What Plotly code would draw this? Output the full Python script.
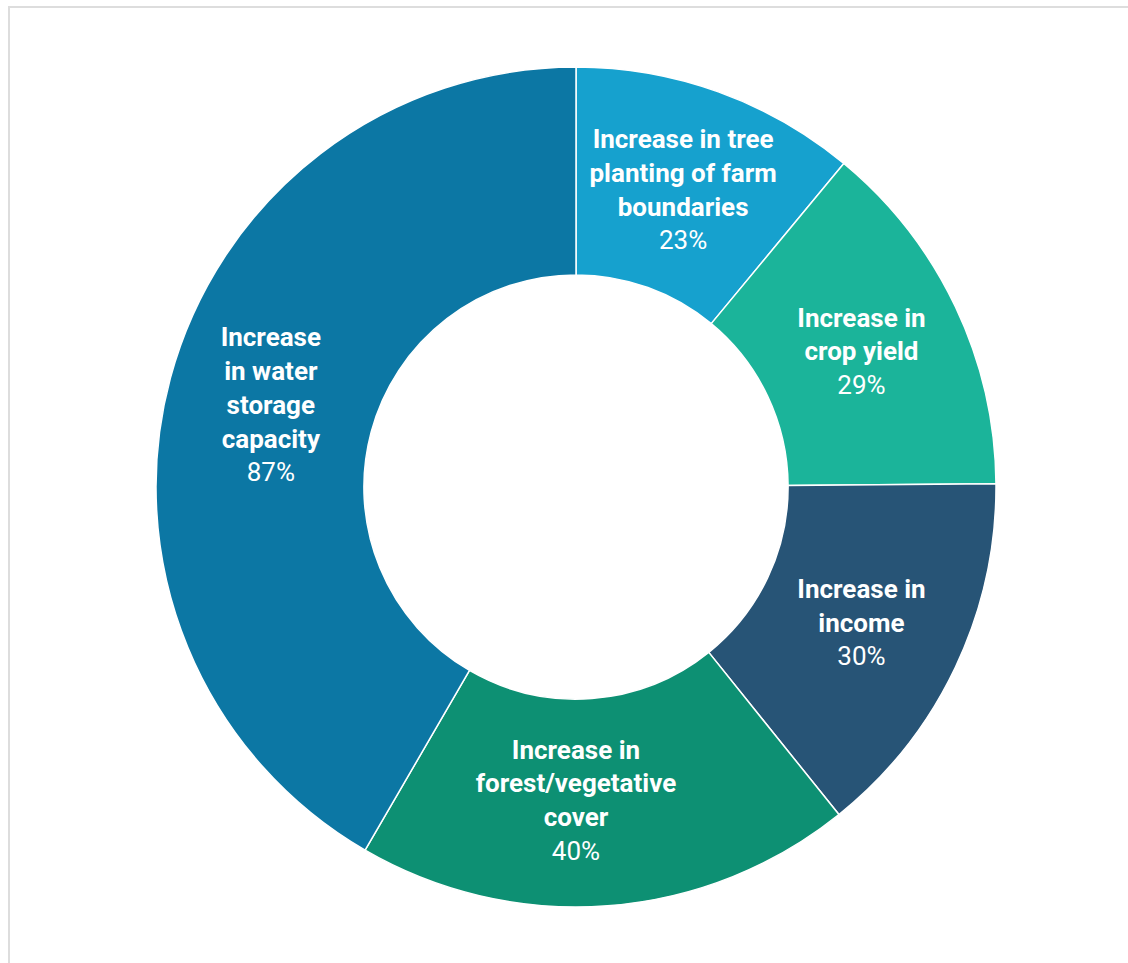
import plotly.graph_objects as go

labels = [
    "Increase in tree<br>planting of farm<br>boundaries",
    "Increase in<br>crop yield",
    "Increase in<br>income",
    "Increase in<br>forest/vegetative<br>cover",
    "Increase<br>in water<br>storage<br>capacity",
]
values = [23, 29, 30, 40, 87]
colors = ["#16A1CE", "#1BB49A", "#275476", "#0D9073", "#0C77A4"]

W, H = 1128, 963
cx, cy, R = 576, 487, 420

fig = go.Figure(
    go.Pie(
        labels=labels,
        values=values,
        sort=False,
        direction="clockwise",
        rotation=0,
        hole=0.505,
        marker=dict(colors=colors, line=dict(color="white", width=1.5)),
        texttemplate="<b>%{label}</b><br>%{value}%",
        textposition="inside",
        insidetextorientation="horizontal",
        textfont=dict(family="Roboto", size=26, color="white"),
        showlegend=False,
        domain=dict(
            x=[(cx - R) / W, (cx + R) / W],
            y=[1 - (cy + R) / H, 1 - (cy - R) / H],
        ),
    )
)

fig.update_layout(
    width=W,
    height=H,
    margin=dict(l=0, r=0, t=0, b=0),
    paper_bgcolor="white",
    font=dict(family="Roboto"),
    uniformtext=dict(mode="show", minsize=26),
    shapes=[
        dict(type="line", xref="paper", yref="paper",
             x0=9 / W, x1=1.2, y0=1 - 7 / H, y1=1 - 7 / H,
             line=dict(color="#DDDDDD", width=2)),
        dict(type="line", xref="paper", yref="paper",
             x0=9 / W, x1=9 / W, y0=1 - 6 / H, y1=-0.2,
             line=dict(color="#DDDDDD", width=2)),
    ],
)

fig.write_html("out.html")
